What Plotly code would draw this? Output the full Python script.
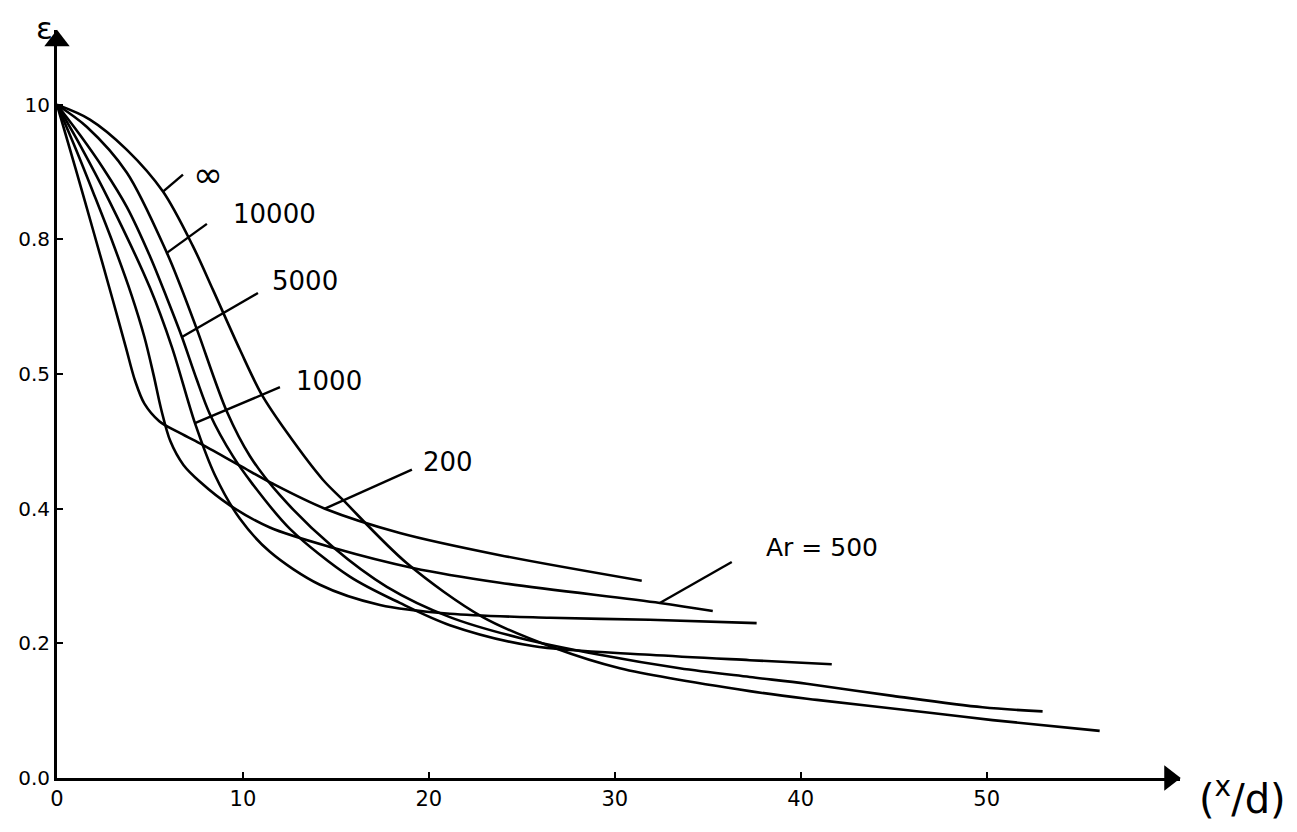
import numpy as np
import plotly.graph_objects as go

# ---- data ----
x_inf = [0, 1.77, 3.76, 5.70, 7.31, 8.39, 9.84, 11.02, 12.37, 14.30, 15.38, 18.82, 22.90, 26.77, 30.27, 37.26, 40.86, 46.94, 50.32, 56.08]
y_inf = [1.0, 0.978, 0.933, 0.871, 0.790, 0.725, 0.636, 0.569, 0.513, 0.443, 0.413, 0.319, 0.239, 0.193, 0.163, 0.129, 0.116, 0.097, 0.086, 0.070]

x_10000 = [0, 1.61, 3.76, 5.91, 6.61, 7.53, 9.14, 10.38, 11.99, 14.84, 17.74, 21.13, 24.89, 29.19, 33.49, 37.26, 40.32, 44.95, 49.78, 53.01]
y_10000 = [1.0, 0.967, 0.899, 0.780, 0.733, 0.666, 0.544, 0.478, 0.420, 0.343, 0.284, 0.239, 0.208, 0.183, 0.163, 0.150, 0.140, 0.122, 0.105, 0.099]

x_5000 = [0, 1.24, 2.5, 3.76, 5.0, 5.91, 6.72, 7.5, 8.23, 9.46, 10.48, 12.53, 15.75, 18.44, 21.13, 25.59, 31.88, 37.26, 41.67]
y_5000 = [1.0, 0.955, 0.905, 0.848, 0.775, 0.713, 0.655, 0.593, 0.540, 0.478, 0.438, 0.370, 0.299, 0.260, 0.227, 0.196, 0.183, 0.175, 0.169]

x_1000 = [0, 1.24, 2.85, 5.00, 6.18, 7.42, 8.49, 9.84, 11.45, 14.14, 17.37, 21.13, 26.51, 31.88, 37.63]
y_1000 = [1.0, 0.940, 0.855, 0.728, 0.640, 0.527, 0.450, 0.385, 0.336, 0.287, 0.257, 0.244, 0.238, 0.235, 0.230]

x_200 = [0, 1.0, 2.0, 3.0, 3.7, 4.2, 4.7, 5.5, 6.5, 7.69, 9.84, 11.61, 14.41, 18.44, 23.82, 31.45]
y_200 = [1.0, 0.905, 0.808, 0.710, 0.640, 0.590, 0.556, 0.530, 0.514, 0.497, 0.464, 0.437, 0.400, 0.364, 0.331, 0.293]

x_500 = [0, 1.0, 2.0, 3.0, 4.0, 4.7, 5.2, 5.6, 6.1, 6.8, 7.69, 9.30, 11.45, 14.84, 19.14, 23.82, 32.42, 35.27]
y_500 = [1.0, 0.935, 0.866, 0.795, 0.718, 0.655, 0.598, 0.548, 0.500, 0.465, 0.440, 0.405, 0.372, 0.342, 0.312, 0.290, 0.260, 0.248]

curve_names = ["∞", "10000", "5000", "1000", "200", "Ar = 500"]
curves_x = [x_inf, x_10000, x_5000, x_1000, x_200, x_500]
curves_y = [y_inf, y_10000, y_5000, y_1000, y_200, y_500]

# where each leader line touches its curve (x/d)
leader_x = [5.70, 5.91, 6.72, 7.42, 14.41, 32.42]
# leader line far end, pixel offsets (right, up)
leader_dx = [20, 40, 76, 85, 87, 72]
leader_dy = [17, 29, 44, 36, 39, 41]
# label positions (data units)
label_x = [8.12, 11.72, 13.33, 14.62, 21.02, 41.13]
label_y = [0.897, 0.838, 0.738, 0.590, 0.470, 0.342]
label_size = [36, 26, 26, 26, 26, 25]

x_ticks = [0, 10, 20, 30, 40, 50]
x_ticktext = ["0", "10", "20", "30", "40", "50"]
y_ticks = [0.0, 0.2, 0.4, 0.6, 0.8, 1.0]
y_ticktext = ["0.0", "0.2", "0.4", "0.5", "0.8", "10"]

X_MAX = 60.4
Y_MAX = 1.111
FONT = "DejaVu Sans"

fig = go.Figure()
for cx, cy, nm in zip(curves_x, curves_y, curve_names):
    fig.add_trace(go.Scatter(
        x=cx, y=cy, mode="lines", name=nm,
        line=dict(color="black", width=2.6, shape="spline", smoothing=0.9),
        showlegend=False, hoverinfo="skip",
    ))

# axis arrow heads
fig.add_trace(go.Scatter(x=[X_MAX - 0.55], y=[0], mode="markers", cliponaxis=False,
                         marker=dict(symbol="triangle-right", size=22, color="black"),
                         showlegend=False, hoverinfo="skip"))
fig.add_trace(go.Scatter(x=[0], y=[Y_MAX - 0.016], mode="markers", cliponaxis=False,
                         marker=dict(symbol="triangle-up", size=22, color="black"),
                         showlegend=False, hoverinfo="skip"))

# leader lines (anchored on the curves, drawn in pixels)
shapes = []
for cx, cy, lx, dx, dy in zip(curves_x, curves_y, leader_x, leader_dx, leader_dy):
    ly = float(np.interp(lx, cx, cy))
    shapes.append(dict(type="line", xref="x", yref="y",
                       xsizemode="pixel", ysizemode="pixel",
                       xanchor=lx, yanchor=ly, x0=0, y0=0, x1=dx, y1=dy,
                       line=dict(color="black", width=2.4)))

annotations = []
for nm, lx, ly, sz in zip(curve_names, label_x, label_y, label_size):
    annotations.append(dict(
        x=lx, y=ly, xref="x", yref="y", text=nm, showarrow=False,
        font=dict(family=FONT, size=sz, color="black"),
        xanchor="center", yanchor="middle",
    ))
annotations.append(dict(x=1.056, y=-0.024, xref="paper", yref="paper", text="(<sup>x</sup>/d)", showarrow=False,
                        font=dict(family=FONT, size=40, color="black"), xanchor="center", yanchor="middle"))
annotations.append(dict(x=-0.011, y=1.029, xref="paper", yref="paper", text="ε", showarrow=False,
                        font=dict(family=FONT, size=31, color="black"), xanchor="center", yanchor="top"))

fig.update_layout(
    width=1289, height=824,
    margin=dict(l=49, r=117, t=22, b=54),
    paper_bgcolor="white", plot_bgcolor="white",
    annotations=annotations, shapes=shapes,
    xaxis=dict(range=[0, X_MAX], showgrid=False, zeroline=False, showline=True,
               linecolor="black", linewidth=3, ticks="inside", ticklen=6, tickwidth=2,
               tickcolor="black", tickvals=x_ticks, ticktext=x_ticktext,
               tickfont=dict(family=FONT, size=21, color="black"), automargin=False),
    yaxis=dict(range=[0, Y_MAX], showgrid=False, zeroline=False, showline=True,
               linecolor="black", linewidth=3, ticks="inside", ticklen=6, tickwidth=2,
               tickcolor="black", tickvals=y_ticks, ticktext=y_ticktext,
               tickfont=dict(family=FONT, size=20, color="black"), automargin=False),
)

fig.write_html("out.html")
